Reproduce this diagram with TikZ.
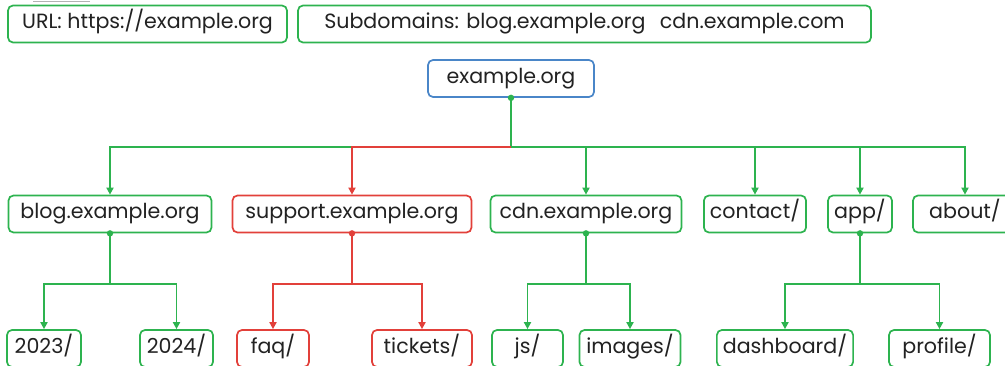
\documentclass[tikz,border=0pt]{standalone}
\usepackage{fontspec}
\setmainfont{Poppins}
\usetikzlibrary{arrows.meta}
\definecolor{lgreen}{HTML}{2DB34F}
\definecolor{lred}{HTML}{E2403A}
\definecolor{lblue}{HTML}{4A86C8}
\definecolor{ink}{HTML}{222222}
\begin{document}
\begin{tikzpicture}[x=1pt,y=-1pt,
  box/.style={draw, rounded corners=5pt, line width=1.7pt, fill=white, text=ink,
    font=\fontsize{20.6}{22}\selectfont, inner xsep=6pt, inner ysep=0pt,
    minimum height=37pt, text height=15pt, text depth=5pt},
  gbox/.style={box, draw=lgreen},
  rbox/.style={box, draw=lred},
  bbox/.style={box, draw=lblue},
  link/.style={line width=1.7pt, -{Triangle[length=7pt,width=7pt]}},
  glink/.style={link, draw=lgreen},
  rlink/.style={link, draw=lred},
  gdot/.style={fill=lgreen},
  rdot/.style={fill=lred}]
\useasboundingbox (0,0) rectangle (1005,366);
\clip (0,0) rectangle (1005,366);

% faint rule at the top edge
\draw[gray!60, line width=0.8pt] (33,1.5) -- (90,1.5);

% header boxes
\node[gbox, minimum width=279pt] (url) at (147.5,24) {URL: https://example.org};
\node[gbox, minimum width=573pt] (subs) at (584.5,24) {Subdomains: blog.example.org\ \ \,cdn.example.com};

% root
\node[bbox, minimum width=166pt] (root) at (511,78.5) {example.org};

% first level
\node[gbox, minimum width=203pt] (blog) at (110,214) {blog.example.org};
\node[rbox, minimum width=239pt] (sup) at (352,214) {support.example.org};
\node[gbox, minimum width=191pt] (cdn) at (586,214) {cdn.example.org};
\node[gbox, minimum width=102pt] (contact) at (755,214) {contact/};
\node[gbox, minimum width=64pt] (app) at (860,214) {app/};
\node[gbox, minimum width=104pt] (about) at (965,214) {about/};

% second level
\node[gbox, minimum width=74pt] (y2023) at (44,348.5) {2023/};
\node[gbox, minimum width=73pt] (y2024) at (176.5,348.5) {2024/};
\node[rbox, minimum width=72pt] (faq) at (273,348.5) {faq/};
\node[rbox, minimum width=100pt] (tickets) at (422,348.5) {tickets/};
\node[gbox, minimum width=71pt] (js) at (527.5,348.5) {js/};
\node[gbox, minimum width=101pt] (images) at (630,348.5) {images/};
\node[gbox, minimum width=136pt] (dash) at (785,348.5) {dashboard/};
\node[gbox, minimum width=101pt] (profile) at (939.5,348.5) {profile/};

% root -> first level
\foreach \c in {blog,cdn,contact,app,about}
  \draw[glink] (root.south) -- ++(0,49) -| (\c.north);
\draw[rlink] (root.south) ++(0,49) -| (sup.north);

% first level -> second level
\foreach \p/\c in {blog/y2023,blog/y2024,cdn/js,cdn/images,app/dash,app/profile}
  \draw[glink] (\p.south) -- ++(0,51) -| (\c.north);
\foreach \c in {faq,tickets}
  \draw[rlink] (sup.south) -- ++(0,51) -| (\c.north);

% junction dots
\foreach \n in {root,blog,cdn,app}
  \fill[gdot] (\n.south) circle (3.2pt);
\fill[rdot] (sup.south) circle (3.2pt);
\end{tikzpicture}
\end{document}
